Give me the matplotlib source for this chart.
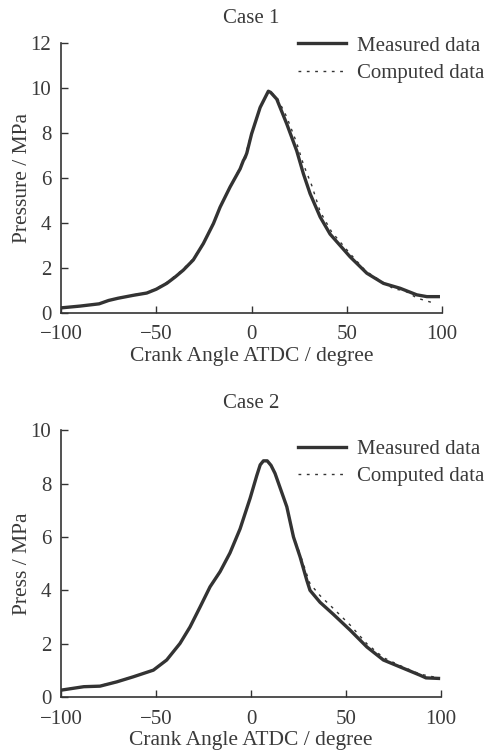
import matplotlib
matplotlib.use("Agg")
import matplotlib.pyplot as plt

plt.rcParams['font.family'] = ['Liberation Serif', 'DejaVu Serif']

# ---- Case 1 data ----
c1_meas_x = [-100, -90, -80, -75, -70, -62, -55, -50, -44.5, -40, -35.8, -30.6, -25.3, -20, -16.5,
             -11.3, -6, -4.3, -3.4, -2.5, 0, 4.5, 8.8, 10, 13.2, 18.5, 23.7, 27.2, 30.7, 36, 41.2,
             51.7, 60.5, 69.2, 78, 86.7, 92, 98]
c1_meas_y = [0.22, 0.3, 0.4, 0.55, 0.65, 0.78, 0.88, 1.05, 1.31, 1.6, 1.9, 2.35, 3.08, 3.97, 4.7,
             5.59, 6.4, 6.77, 6.9, 7.1, 7.95, 9.13, 9.85, 9.8, 9.5, 8.39, 7.2, 6.18, 5.3, 4.26, 3.5,
             2.49, 1.76, 1.31, 1.09, 0.8, 0.72, 0.72]
c1_comp_x = [-100, -90, -80, -75, -70, -62, -55, -50, -44.5, -40, -35.8, -30.6, -25.3, -20, -16.5,
             -11.3, -6, -3, 0, 4.5, 8.8, 10, 13.2, 18.5, 23.7, 27.2, 31.6, 36, 42, 52, 60, 70, 75,
             80, 87, 95]
c1_comp_y = [0.22, 0.3, 0.42, 0.55, 0.66, 0.8, 0.9, 1.08, 1.35, 1.65, 1.95, 2.4, 3.1, 4.0, 4.72,
             5.62, 6.45, 7.1, 8.0, 9.15, 9.85, 9.8, 9.6, 8.7, 7.55, 6.6, 5.66, 4.5, 3.6, 2.6, 1.85,
             1.3, 1.05, 1.0, 0.65, 0.45]

# ---- Case 2 data ----
c2_meas_x = [-100, -88, -79.5, -70.7, -62, -51.4, -44.4, -37.4, -32.1, -26.8, -21.6, -16.3, -11.1,
             -5.8, -0.5, 3, 4.8, 6.5, 8.5, 10.5, 12.6, 18.8, 22.3, 25.8, 29.3, 31, 36.3, 43.3, 52.1,
             60.9, 69.6, 78.4, 88.9, 92, 98.6]
c2_meas_y = [0.26, 0.39, 0.41, 0.57, 0.76, 1.01, 1.39, 2.01, 2.63, 3.38, 4.13, 4.7, 5.4,
             6.3, 7.45, 8.3, 8.7, 8.85, 8.85, 8.68, 8.38, 7.13, 6.0, 5.25, 4.38, 4.0, 3.55, 3.1, 2.51,
             1.88, 1.39, 1.13, 0.82, 0.72, 0.7]
c2_comp_x = [-100, -88, -79.5, -70.7, -62, -51.4, -44.4, -37.4, -32.1, -26.8, -21.6, -16.3, -11.1,
             -5.8, -0.5, 3, 4.8, 6.5, 8.5, 10.5, 12.6, 18.8, 22.3, 25.8, 29.3, 31, 36.3, 43.3, 52.1,
             60.9, 69.6, 78.4, 88.9, 98.6]
c2_comp_y = [0.27, 0.4, 0.43, 0.58, 0.77, 1.02, 1.4, 2.02, 2.64, 3.39, 4.14, 4.71, 5.41,
             6.31, 7.45, 8.3, 8.7, 8.85, 8.85, 8.68, 8.4, 7.15, 6.05, 5.35, 4.6, 4.25, 3.8, 3.32, 2.7,
             2.0, 1.48, 1.18, 0.86, 0.72]

x_ticks = [-100, -50, 0, 50, 100]
labels = ["Measured data", "Computed data"]

text_col = '#3a3a3a'
line_col = '#333333'

fig = plt.figure(figsize=(4.88, 7.52), dpi=100)

def style(ax, ylim, yticks, ylabel, title, title_pad, leg_anchor):
    ax.set_xlim(-100, 100)
    ax.set_ylim(*ylim)
    ax.set_xticks(x_ticks)
    ax.set_xticklabels(['\u2212100', '\u221250', '0', '50', '100'])
    ax.set_yticks(yticks)
    for s in ['top', 'right']:
        ax.spines[s].set_visible(False)
    for s in ['left', 'bottom']:
        ax.spines[s].set_color(line_col)
        ax.spines[s].set_linewidth(1.2)
    ax.tick_params(direction='in', length=5, width=1.0, colors=line_col,
                   labelcolor=text_col, labelsize=15)
    ax.tick_params(axis='x', pad=9)
    ax.tick_params(axis='y', pad=7)
    ax.set_xlabel("Crank Angle ATDC / degree", fontsize=15.5, color=text_col, labelpad=2)
    ax.set_ylabel(ylabel, fontsize=15.5, color=text_col, labelpad=-1)
    ax.set_title(title, fontsize=15, color=text_col, pad=title_pad)
    ax.legend(loc='upper right', bbox_to_anchor=leg_anchor, frameon=False, fontsize=15,
              handlelength=2.3, handletextpad=0.5, labelspacing=0.38, borderpad=0,
              borderaxespad=0, labelcolor=text_col)

ax1 = fig.add_axes([0.125, 0.584, 0.781, 0.359])
ax1.plot(c1_meas_x, c1_meas_y, color=line_col, lw=2.4, label=labels[0])
ax1.plot(c1_comp_x, c1_comp_y, color=line_col, lw=1.0, ls=(0, (2, 4)), label=labels[1])
style(ax1, (0, 12), [0, 2, 4, 6, 8, 10, 12], "Pressure / MPa", "Case 1", 14, (1.11, 1.025))

ax2 = fig.add_axes([0.125, 0.073, 0.779, 0.355])
ax2.plot(c2_meas_x, c2_meas_y, color=line_col, lw=2.4, label=labels[0])
ax2.plot(c2_comp_x, c2_comp_y, color=line_col, lw=1.0, ls=(0, (2, 4)), label=labels[1])
style(ax2, (0, 10), [0, 2, 4, 6, 8, 10], "Press / MPa", "Case 2", 16, (1.113, 0.966))

fig.savefig("out.png", dpi=100)
